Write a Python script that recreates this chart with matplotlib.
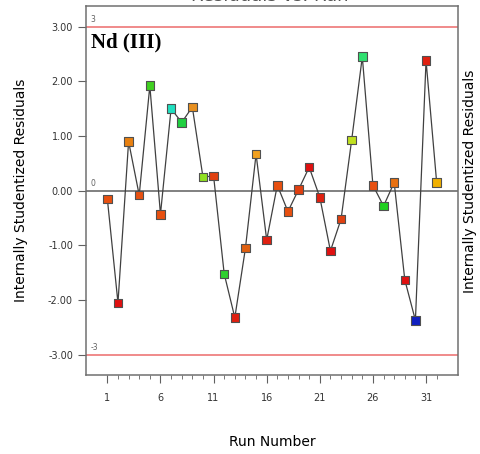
import numpy as np
import matplotlib.pyplot as plt

# residuals per run
runs = list(range(1, 33))
resid = [-0.15, -2.05, 0.90, -0.08, 1.92, -0.43, 1.50, 1.25, 1.53, 0.25,
         0.27, -1.52, -2.32, -1.05, 0.67, -0.90, 0.10, -0.38, 0.02, 0.43,
         -0.12, -1.10, -0.52, 0.93, 2.45, 0.10, -0.28, 0.15, -1.63, -2.37,
         2.38, 0.15]
colors = ['#e85010', '#e01010', '#e88010', '#e85010', '#40d020', '#e85010',
          '#20e0c0', '#20d040', '#e89020', '#90e020', '#e04010', '#30d030',
          '#e02010', '#e06010', '#f0a020', '#e02010', '#e85010', '#e85010',
          '#e04010', '#e01010', '#e02010', '#e01010', '#e04010', '#c0e020',
          '#30e070', '#e85010', '#20d020', '#e87010', '#e01010', '#1020c0',
          '#e02010', '#f0b000']
limit = 3.0
xticks = [1, 6, 11, 16, 21, 26, 31]
yticks = [-3, -2, -1, 0, 1, 2, 3]

fig = plt.figure(figsize=(4.81, 4.54), dpi=100)
ax = fig.add_axes([0.179, 0.174, 0.773, 0.813])

ax.axhline(limit, color='#f08a8a', lw=1.4, zorder=1)
ax.axhline(-limit, color='#f08a8a', lw=1.4, zorder=1)
ax.axhline(0, color='#808080', lw=1.4, zorder=1)
ax.plot(runs, resid, color='#404040', lw=0.9, zorder=2)
ax.scatter(runs, resid, marker='s', s=38, c=colors, edgecolors='#505050',
           linewidths=0.8, zorder=3)

ax.text(-0.6, limit + 0.05, '3', fontsize=5.5, color='#606060', va='bottom')
ax.text(-0.6, 0.05, '0', fontsize=5.5, color='#606060', va='bottom')
ax.text(-0.6, -limit + 0.05, '-3', fontsize=5.5, color='#606060', va='bottom')
ax.text(-0.5, 2.72, 'Nd (III)', fontsize=15, fontweight='bold',
        family='Liberation Serif', va='center')

ax.set_xlim(-1, 34)
ax.set_ylim(-3.37, 3.38)
ax.set_xticks(xticks)
ax.set_xticks(range(1, 33), minor=True)
ax.set_yticks(yticks)
ax.set_yticklabels([f'{v:.2f}' for v in yticks])
ax.tick_params(axis='both', which='major', direction='out', length=6,
               color='#606060', labelsize=7, labelcolor='#333333')
ax.tick_params(axis='x', which='major', pad=7)
ax.tick_params(axis='x', which='minor', direction='out', length=3,
               color='#606060')
for s in ax.spines.values():
    s.set_color('#707070')
    s.set_linewidth(1.1)

ax.set_xlabel('Run Number', fontsize=10, labelpad=23)
ax.set_ylabel('Internally Studentized Residuals', fontsize=10, labelpad=14)
fig.text(0.977, 0.6, 'Internally Studentized Residuals', fontsize=10,
         rotation=90, ha='center', va='center')
fig.text(0.56, 0.997, 'Residuals vs. Run', fontsize=13, color='#555555',
         ha='center', va='baseline')

fig.savefig('out.png', dpi=100)
